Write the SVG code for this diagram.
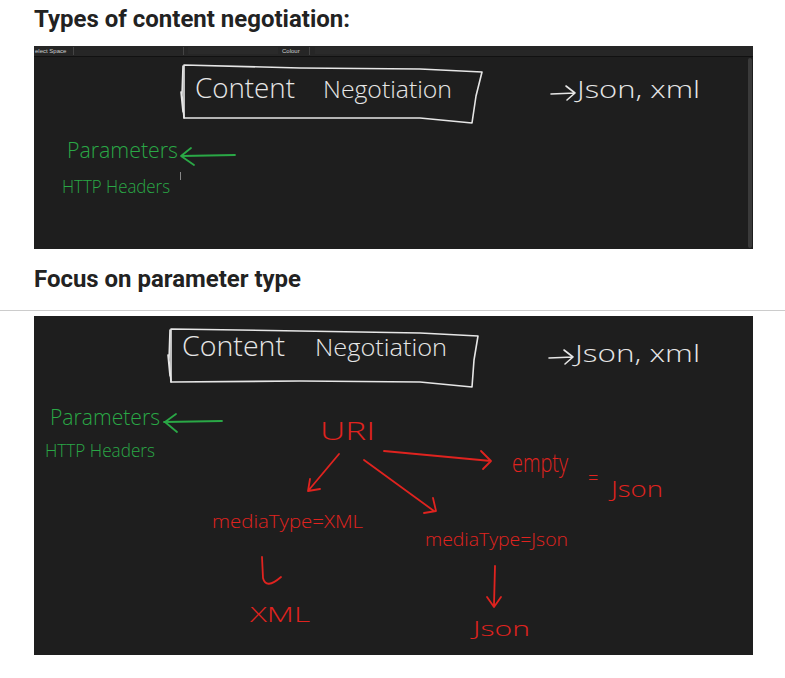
<svg xmlns="http://www.w3.org/2000/svg" width="785" height="678" viewBox="0 0 785 678">
<defs>
<style>
.title{font-family:Roboto,"Liberation Sans",sans-serif;font-weight:700;font-size:23.5px;fill:#222}
.panel{fill:#1e1e1e}
.hw{font-family:"Open Sans","DejaVu Sans",sans-serif;font-weight:300}
.w{fill:#e6e6e6}
.g{fill:#2aa846}
.r{fill:#e0231f}
.sw{fill:none;stroke:#e6e6e6;stroke-width:1.6;stroke-linecap:round;stroke-linejoin:round}
.sg{fill:none;stroke:#2aa846;stroke-width:1.8;stroke-linecap:round;stroke-linejoin:round}
.sr{fill:none;stroke:#e0231f;stroke-width:1.8;stroke-linecap:round;stroke-linejoin:round}
.tb{font-family:"Liberation Sans",sans-serif;font-size:6px;fill:#cfcfcf}
</style>
</defs>
<rect width="785" height="678" fill="#ffffff"/>
<text class="title" x="34" y="27" textLength="316" lengthAdjust="spacingAndGlyphs">Types of content negotiation:</text>
<text class="title" x="34" y="287" textLength="267" lengthAdjust="spacingAndGlyphs">Focus on parameter type</text>
<line x1="0" y1="310.5" x2="785" y2="310.5" stroke="#cccccc" stroke-width="1"/>

<!-- Panel 1 -->
<g id="panel1">
<rect class="panel" x="34" y="46" width="719" height="203"/>
<rect x="34" y="46" width="719" height="10" fill="#262626"/>
<line x1="34" y1="56.5" x2="753" y2="56.5" stroke="#111" stroke-width="1"/>
<text class="tb" x="35" y="53">elect  Space</text>
<line x1="73.5" y1="47" x2="73.5" y2="55" stroke="#444"/>
<line x1="183.5" y1="47" x2="183.5" y2="55" stroke="#444"/>
<rect x="188" y="47" width="90" height="7" fill="#2a2a2a"/>
<text class="tb" x="282" y="53">Colour</text>
<line x1="309.5" y1="47" x2="309.5" y2="55" stroke="#444"/>
<rect x="315" y="47" width="115" height="7" fill="#2a2a2a"/>
<rect x="748" y="58" width="4" height="190" fill="#3a3a3a" rx="2"/>
</g>
<g id="box1">
<path class="sw" d="M184 65 L300 68 L420 69 L482 72 L476 96 L472 123 L420 118 L300 118 L184 118 Z"/>
<path class="sw" d="M183 66 L182 95 L184 118 M181 92 L183 112"/>
<text class="hw w" x="195" y="98" font-size="27" textLength="100" lengthAdjust="spacingAndGlyphs">Content</text>
<text class="hw w" x="323" y="98" font-size="24" textLength="129" lengthAdjust="spacingAndGlyphs">Negotiation</text>
</g>
<g id="formats1">
<path class="sw" d="M551 94 L575 93 M566 86 L575 93 L567 100"/>
<text class="hw w" x="577" y="98" font-size="24" textLength="123" lengthAdjust="spacingAndGlyphs">Json, xml</text>
</g>
<g id="params1">
<text class="hw g" x="67" y="158" font-size="22" textLength="111" lengthAdjust="spacingAndGlyphs">Parameters</text>
<text class="hw g" x="62" y="193" font-size="19" textLength="108" lengthAdjust="spacingAndGlyphs">HTTP Headers</text>
<line x1="180.5" y1="172" x2="180.5" y2="180" stroke="#888" stroke-width="1"/>
</g>

<!-- Panel 2 -->
<g id="panel2">
<rect class="panel" x="34" y="316" width="719" height="339"/>
</g>
<g id="box2">
<path class="sw" d="M171 329 L300 331 L420 333 L478 336 L474 360 L472 387 L420 382 L300 381 L171 382 Z"/>
<path class="sw" d="M170 330 L169 360 L171 382 M168 355 L170 376"/>
<text class="hw w" x="182" y="356" font-size="27" textLength="103" lengthAdjust="spacingAndGlyphs">Content</text>
<text class="hw w" x="315" y="356" font-size="24" textLength="132" lengthAdjust="spacingAndGlyphs">Negotiation</text>
</g>
<g id="formats2">
<path class="sw" d="M549 358 L573 357 M564 350 L573 357 L565 364"/>
<text class="hw w" x="575" y="362" font-size="24" textLength="125" lengthAdjust="spacingAndGlyphs">Json, xml</text>
</g>
<g id="params2">
<text class="hw g" x="50" y="425" font-size="22" textLength="110" lengthAdjust="spacingAndGlyphs">Parameters</text>
<text class="hw g" x="45" y="457" font-size="19" textLength="110" lengthAdjust="spacingAndGlyphs">HTTP Headers</text>
</g>
<g id="uri">
<text class="hw r" x="320" y="440" font-size="26" textLength="55" lengthAdjust="spacingAndGlyphs">URI</text>
</g>
<g id="empty">
<text class="hw r" x="512" y="472" font-size="26" textLength="56" lengthAdjust="spacingAndGlyphs">empty</text>
<text class="hw r" x="588" y="484" font-size="18">=</text>
<text class="hw r" x="611" y="497" font-size="22" textLength="52" lengthAdjust="spacingAndGlyphs">Json</text>
</g>
<g id="mtxml">
<text class="hw r" x="212" y="528" font-size="18" textLength="151" lengthAdjust="spacingAndGlyphs">mediaType=XML</text>
</g>
<g id="xml">
<text class="hw r" x="250" y="622" font-size="20" textLength="60" lengthAdjust="spacingAndGlyphs">XML</text>
</g>
<g id="mtjson">
<text class="hw r" x="425" y="546" font-size="18" textLength="143" lengthAdjust="spacingAndGlyphs">mediaType=Json</text>
</g>
<g id="json">
<text class="hw r" x="473" y="636" font-size="20" textLength="57" lengthAdjust="spacingAndGlyphs">Json</text>
</g>

<g id="connectors">
<path class="sg" d="M182 156 L235 155 M191 148 L181 156 L194 165"/>
<path class="sg" d="M164 422 L222 421 M176 414 L165 422 L177 432"/>
<path class="sr" d="M339 454 L308 491 M310 479 L308 491 L320 489"/>
<path class="sr" d="M364 460 L434 511 M433 498 L436 511 L424 513"/>
<path class="sr" d="M384 451 L491 461 M481 451 L491 461 L483 469"/>
<path class="sr" d="M262 557 L263 578 Q266 590 281 577"/>
<path class="sr" d="M495 566 L494 605 M487 597 L494 607 L501 597"/>
</g>
</svg>
